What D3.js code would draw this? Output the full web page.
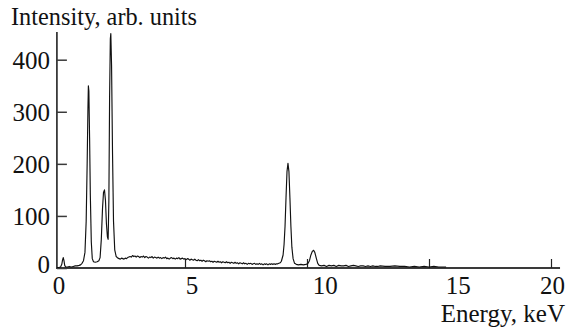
<!DOCTYPE html>
<html>
<head>
<meta charset="utf-8">
<script src="https://cdn.jsdelivr.net/npm/d3@7"></script>
<style>
  html, body { margin: 0; padding: 0; background: #fff; }
  svg { display: block; }
</style>
</head>
<body>
<svg id="chart" width="568" height="330"></svg>
<script>
// EDX spectrum as [energy keV, counts] pairs, split by region

// noise peak at zero and the low-energy L / Si / P lines
const lowEnergyLines = [
  [-0.25, 1], [-0.17, 1], [-0.10, 2], [-0.05, 7], [-0.02, 15], [0.01, 20], [0.04, 14], [0.07, 5], [0.11, 2],
  [0.18, 2], [0.26, 3], [0.34, 2], [0.42, 3], [0.50, 4], [0.58, 4], [0.66, 5], [0.72, 6], [0.78, 9],
  [0.84, 14], [0.90, 30], [0.95, 90], [0.99, 200], [1.02, 300], [1.04, 350], [1.06, 340], [1.09, 250],
  [1.12, 140], [1.16, 50], [1.20, 18], [1.25, 12], [1.32, 11], [1.40, 12], [1.47, 14], [1.52, 20],
  [1.57, 55], [1.62, 115], [1.66, 145], [1.70, 150], [1.74, 130], [1.78, 85], [1.82, 60], [1.85, 55],
  [1.88, 130], [1.91, 330], [1.94, 440], [1.96, 450], [1.99, 390], [2.03, 220], [2.07, 90], [2.12, 35],
  [2.18, 22]
];

// bremsstrahlung background between the lines
const background = [
  [2.25, 19], [2.30, 18], [2.35, 17], [2.40, 19], [2.45, 18], [2.50, 17], [2.55, 19], [2.60, 18], [2.65, 20],
  [2.70, 21], [2.75, 22], [2.80, 21], [2.85, 24], [2.90, 22], [2.95, 23], [3.00, 21], [3.05, 23], [3.10, 22],
  [3.15, 20], [3.20, 22], [3.25, 21], [3.30, 23], [3.35, 20], [3.40, 22], [3.45, 21], [3.50, 19], [3.55, 21],
  [3.60, 20], [3.65, 22], [3.70, 19], [3.75, 21], [3.80, 20], [3.85, 19], [3.90, 21], [3.95, 19], [4.00, 20],
  [4.05, 18], [4.10, 20], [4.15, 19], [4.20, 21], [4.25, 18], [4.30, 19], [4.35, 17], [4.40, 19], [4.45, 20],
  [4.50, 18], [4.55, 19], [4.60, 17], [4.65, 19], [4.70, 18], [4.75, 20], [4.80, 17], [4.85, 18], [4.90, 19],
  [4.95, 17], [5.00, 18], [5.05, 16], [5.10, 18], [5.15, 17], [5.20, 15], [5.25, 17], [5.30, 16], [5.35, 15],
  [5.40, 17], [5.45, 15], [5.50, 14], [5.55, 16], [5.60, 14], [5.65, 15], [5.70, 13], [5.75, 15], [5.80, 14],
  [5.85, 12], [5.90, 14], [5.95, 13], [6.00, 14], [6.05, 12], [6.10, 13], [6.15, 11], [6.20, 13], [6.25, 12],
  [6.30, 11], [6.35, 13], [6.40, 11], [6.45, 12], [6.50, 10], [6.55, 12], [6.60, 11], [6.65, 10], [6.70, 12],
  [6.75, 10], [6.80, 11], [6.85, 9], [6.90, 11], [6.95, 10], [7.00, 9], [7.05, 11], [7.10, 9], [7.15, 10],
  [7.20, 8], [7.25, 10], [7.30, 9], [7.35, 8], [7.40, 10], [7.45, 8], [7.50, 9], [7.55, 7], [7.60, 9],
  [7.65, 8], [7.70, 9], [7.75, 7], [7.80, 8], [7.85, 9], [7.90, 7], [7.95, 8], [8.00, 7], [8.05, 9],
  [8.10, 7], [8.15, 8], [8.20, 6], [8.25, 8], [8.30, 7], [8.35, 8], [8.40, 6], [8.45, 8], [8.50, 7],
  [8.55, 8], [8.60, 7], [8.65, 8], [8.70, 7], [8.75, 8], [8.80, 8], [8.85, 9], [8.90, 10], [8.95, 13]
];

// K-alpha / K-beta pair and the high-energy tail
const kLines = [
  [9.02, 25], [9.06, 45], [9.10, 80], [9.14, 135], [9.18, 185], [9.22, 201], [9.26, 185], [9.30, 135],
  [9.34, 80], [9.38, 40], [9.43, 18], [9.49, 9], [9.56, 7], [9.65, 6], [9.75, 7], [9.85, 6], [9.95, 7],
  [10.03, 8], [10.10, 14], [10.16, 25], [10.22, 32], [10.27, 34], [10.32, 30], [10.38, 19], [10.44, 9],
  [10.50, 5], [10.60, 4], [10.70, 5], [10.80, 3], [10.90, 5], [11.00, 4], [11.10, 5], [11.20, 3], [11.30, 5],
  [11.40, 4], [11.50, 4], [11.60, 5], [11.70, 3], [11.80, 4], [11.90, 5], [12.00, 4], [12.10, 3], [12.20, 4],
  [12.30, 4], [12.40, 3], [12.50, 4], [12.60, 3], [12.70, 4], [12.80, 3], [12.90, 3], [13.00, 4], [13.20, 3],
  [13.40, 3], [13.60, 4], [13.80, 3], [14.00, 3], [14.20, 2], [14.40, 3], [14.60, 2], [14.80, 3], [15.00, 2],
  [15.20, 3], [15.40, 2], [15.70, 2]
];

const yTickValues = [0, 100, 200, 300, 400];
const xTickValues = [5, 10, 15, 20];
const xLabelValues = [0, 5, 10, 15, 20];

const yTitle = "Intensity, arb. units";
const xTitle = "Energy, keV";

const spectrum = lowEnergyLines.concat(background, kLines);

const W = 568, H = 330;
// text uses the page's default (Times-metric) serif face
const svg = d3.select("#chart");

// Scales
const x = d3.scaleLinear().domain([0, 20]).range([63, 551]);
const y = d3.scaleLinear().domain([0, 400]).range([268, 59.7]);
// tick labels run on their own, slightly wider spacing
const xLabel = d3.scaleLinear().domain([0, 15]).range([59, 458.3]);

const xSpan = [-0.25, 20.37];   // drawn extent of the energy axis (keV)
const yTop = 453;               // drawn extent of the intensity axis

const axisColor = "#3a3a3a";
const fontSize = 25;

// Axis lines
svg.append("line")
  .attr("x1", x(xSpan[0])).attr("x2", x(xSpan[1]))
  .attr("y1", y(0)).attr("y2", y(0))
  .attr("stroke", axisColor).attr("stroke-width", 1.8);
svg.append("line")
  .attr("x1", x(xSpan[0])).attr("x2", x(xSpan[0]))
  .attr("y1", y(0) + 0.9).attr("y2", y(yTop))
  .attr("stroke", axisColor).attr("stroke-width", 1.8);

// Y axis: inward ticks with labels on the left
const yAxis = svg.append("g")
  .attr("transform", `translate(${x(xSpan[0])},0)`)
  .call(d3.axisLeft(y).tickValues(yTickValues).tickSizeInner(-10).tickSizeOuter(0).tickPadding(7));
yAxis.attr("font-family", null).attr("font-size", fontSize);
yAxis.select(".domain").remove();
yAxis.selectAll(".tick line").attr("stroke", axisColor).attr("stroke-width", 1.5);
yAxis.selectAll(".tick text")
  .attr("fill", "#111")
  .attr("dy", d => d === 0 ? "0.16em" : "0.34em");   // zero label sits a little above the energy axis

// X axis: upward ticks
const xAxis = svg.append("g")
  .attr("transform", `translate(0,${y(0)})`)
  .call(d3.axisBottom(x).tickValues(xTickValues).tickSizeInner(-9).tickSizeOuter(0).tickFormat(""));
xAxis.attr("font-family", null);
xAxis.select(".domain").remove();
xAxis.selectAll(".tick line").attr("stroke", "#222").attr("stroke-width", 1.2);

// X tick labels
svg.append("g").selectAll("text")
  .data(xLabelValues)
  .join("text")
  .attr("font-size", fontSize)
  .attr("fill", "#111")
  .attr("y", 293.5)
  .each(function (d) {
    const t = d3.select(this).text(d);
    const px = xLabel(d);
    const w = this.getComputedTextLength();
    if (px + w / 2 > W - 3) {
      t.attr("x", W - 3).attr("text-anchor", "end");
    } else {
      t.attr("x", px).attr("text-anchor", "middle");
    }
  });

// Spectrum trace
const line = d3.line()
  .x(d => x(d[0]))
  .y(d => y(d[1]));
svg.append("path")
  .datum(spectrum)
  .attr("d", line)
  .attr("fill", "none")
  .attr("stroke", "#111")
  .attr("stroke-width", 1.15)
  .attr("stroke-linejoin", "round");

// Axis titles
svg.append("text")
  .attr("x", 11).attr("y", 25)
  .attr("font-size", 24.3)
  .attr("fill", "#111")
  .text(yTitle);
svg.append("text")
  .attr("x", W - 3).attr("y", 321.5)
  .attr("text-anchor", "end")
  .attr("font-size", 25)
  .attr("fill", "#111")
  .text(xTitle);
</script>
</body>
</html>
